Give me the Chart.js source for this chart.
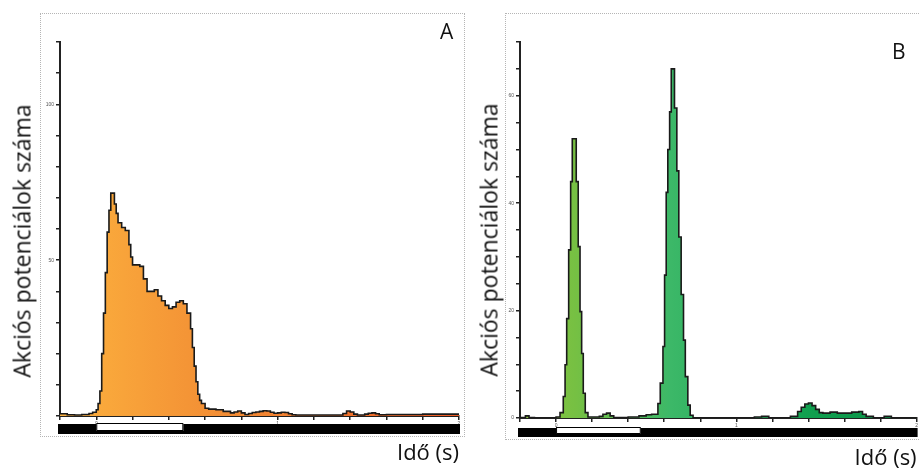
<!DOCTYPE html>
<html>
<head>
<meta charset="utf-8">
<script src="https://cdn.jsdelivr.net/npm/chart.js@4.4.1/dist/chart.umd.min.js"></script>
<style>
  body { margin: 0; background: #fff; }
  #page { position: relative; width: 919px; height: 470px; overflow: hidden; font-family: "Open Sans", sans-serif; color: #111; }
  .box { position: absolute; border: 1px dotted #b5b5b5; box-sizing: border-box; }
  canvas { position: absolute; top: 0; }
  .ytitle { position: absolute; white-space: nowrap; font-size: 23px; line-height: 1; transform: translate(-50%, -50%) rotate(-90deg); }
  .letter { position: absolute; font-size: 21px; line-height: 1; }
</style>
</head>
<body>
<div id="page">
  <div class="box" style="left:40px;top:13px;width:425px;height:424px"></div>
  <div class="box" style="left:505px;top:13px;width:430px;height:427px"></div>
  <canvas id="chartA" width="470" height="470" style="left:0"></canvas>
  <canvas id="chartB" width="449" height="470" style="left:470px"></canvas>
  <div class="ytitle" style="left:22px;top:241px">Akciós potenciálok száma</div>
  <div class="ytitle" style="left:489px;top:240px">Akciós potenciálok száma</div>
  <div class="letter" style="left:440px;top:21px">A</div>
  <div class="letter" style="left:892px;top:41px">B</div>
</div>
<script>
// bin start (s) and spike count per bin
const timesA = [-0.2, -0.16, -0.12, -0.08, -0.04, -0.02, 0.00, 0.01, 0.02, 0.03,
  0.04, 0.05, 0.06, 0.07, 0.08, 0.10, 0.11, 0.12, 0.14, 0.16,
  0.18, 0.19, 0.20, 0.22, 0.24, 0.26, 0.28, 0.30, 0.32, 0.34,
  0.36, 0.38, 0.40, 0.42, 0.44, 0.46, 0.48, 0.50, 0.52, 0.53,
  0.54, 0.55, 0.56, 0.57, 0.58, 0.60, 0.62, 0.66, 0.70, 0.74,
  0.76, 0.78, 0.80, 0.82, 0.84, 0.86, 0.88, 0.90, 0.92, 0.94,
  0.96, 0.98, 1.00, 1.02, 1.04, 1.06, 1.08, 1.10, 1.36, 1.38,
  1.40, 1.42, 1.44, 1.48, 1.50, 1.52, 1.54, 1.56, 1.60, 1.80,
  2.00];
const countsA = [0.7, 0.4, 0.3, 0.5, 0.8, 1.2, 2, 4, 8, 20,
  33, 46, 59, 66, 71.5, 68, 65, 62, 60.5, 59.5,
  55, 51, 48.5, 48.5, 48, 44, 40, 40, 40.5, 38.5,
  37, 35.5, 34.5, 35, 36.5, 37, 36, 33, 28, 22,
  16, 11, 7, 5, 4, 2.5, 2.2, 2, 1.5, 1.0,
  1.3, 1.6, 1.0, 0.5, 0.8, 1.1, 1.3, 1.5, 1.7, 1.6,
  1.2, 0.9, 1.0, 1.2, 1.1, 0.7, 0.4, 0.3, 0.8, 1.6,
  1.3, 0.6, 0.3, 0.6, 0.9, 1.0, 0.7, 0.4, 0.5, 0.6,
  0.6];

const timesB = [-0.2, -0.17, -0.15, -0.12, 0.00, 0.022, 0.040, 0.050, 0.059, 0.070,
  0.081, 0.090, 0.112, 0.123, 0.133, 0.142, 0.151, 0.162, 0.177, 0.24,
  0.26, 0.28, 0.30, 0.32, 0.40, 0.46, 0.50, 0.53, 0.565, 0.578,
  0.593, 0.602, 0.611, 0.620, 0.630, 0.639, 0.657, 0.670, 0.681, 0.694,
  0.707, 0.717, 0.731, 0.744, 0.76, 1.10, 1.14, 1.18, 1.30, 1.34,
  1.36, 1.38, 1.40, 1.42, 1.44, 1.46, 1.48, 1.52, 1.56, 1.60,
  1.64, 1.68, 1.70, 1.72, 1.76, 1.82, 1.86, 2.00];
const countsB = [0.1, 0.4, 0.1, 0, 0.2, 1, 4, 9.9, 18.5, 31.3,
  44, 52, 44, 31.9, 19.8, 12, 4.6, 1, 0.2, 0.3,
  0.7, 0.9, 0.4, 0.1, 0.2, 0.4, 0.6, 0.7, 2.7, 6.5,
  13.3, 26.6, 42, 50, 57, 65, 57.7, 46, 33.7, 23,
  14.5, 7.7, 2.4, 0.5, 0.05, 0.2, 0.3, 0.05, 0.3, 1.2,
  2.0, 2.6, 2.8, 2.3, 1.6, 1.0, 0.9, 1.1, 0.9, 0.9,
  1.1, 1.2, 0.7, 0.3, 0.05, 0.3, 0.05, 0.05];

// stimulus window (s), drawn as the white box on the black bar
const stimA = [0, 0.48];
const stimB = [0, 0.47];

const xTickLabels = [0, 1, 2];
const yTickLabelsA = [50, 100];
const yTickLabelsB = [0, 20, 40, 60];

function fillGradient(chart, stops) {
  const area = chart.chartArea;
  if (!area) return 'transparent';
  const g = chart.ctx.createLinearGradient(area.left, 0, area.right, 0);
  stops.forEach(s => g.addColorStop(s[0], s[1]));
  return g;
}

const stimBar = {
  id: 'stimBar',
  afterDraw(chart, args, opts) {
    const { ctx, chartArea, scales } = chart;
    const top = chartArea.bottom + opts.offset;
    ctx.save();
    ctx.fillStyle = '#000';
    ctx.fillRect(chartArea.left - 2, top + 1, chartArea.right - chartArea.left + 3, opts.height);
    const x0 = scales.x.getPixelForValue(opts.window[0]);
    const x1 = scales.x.getPixelForValue(opts.window[1]);
    ctx.fillStyle = '#fff';
    ctx.strokeStyle = '#000';
    ctx.lineWidth = 1;
    ctx.fillRect(x0, top, x1 - x0, opts.height - 2);
    ctx.strokeRect(x0 + 0.5, top + 0.5, x1 - x0 - 1, opts.height - 3);
    ctx.restore();
  }
};

function makeChart(id, times, counts, cfg) {
  const points = times.map((t, i) => ({ x: t, y: counts[i] }));
  const axisGrid = { drawOnChartArea: false, tickLength: 4, color: '#222', lineWidth: 1.5 };
  const axisBorder = { color: '#222', width: 2 };
  return new Chart(document.getElementById(id), {
    type: 'line',
    data: {
      datasets: [{
        data: points,
        // each count holds from its bin start until the next point
        stepped: 'before',
        fill: 'origin',
        borderColor: '#1a1a1a',
        borderWidth: 1.6,
        pointRadius: 0,
        backgroundColor: ctx => fillGradient(ctx.chart, cfg.stops)
      }]
    },
    plugins: [stimBar],
    options: {
      responsive: false,
      animation: false,
      layout: { padding: { left: 0, top: 42, right: cfg.padRight, bottom: 0 } },
      plugins: {
        legend: { display: false },
        tooltip: { enabled: false },
        stimBar: { offset: cfg.barOffset, height: cfg.barHeight, window: cfg.stim }
      },
      scales: {
        x: {
          type: 'linear',
          min: -0.2,
          max: 2,
          ticks: {
            stepSize: 0.2,
            autoSkip: false,
            maxRotation: 0,
            padding: 1,
            font: { size: 5 },
            color: '#555',
            callback: v => xTickLabels.some(l => Math.abs(l - v) < 1e-6) ? String(Math.round(v)) : ''
          },
          grid: axisGrid,
          border: axisBorder,
          title: {
            display: true,
            text: 'Idő (s)',
            align: 'end',
            color: '#111',
            font: { family: 'Open Sans', size: 22, lineHeight: 1 },
            padding: { top: 0, bottom: cfg.titlePad }
          },
          afterFit: s => { s.height = cfg.xAxisHeight; }
        },
        y: {
          min: 0,
          max: cfg.yMax,
          ticks: {
            stepSize: cfg.yStep,
            padding: 2,
            font: { size: 5 },
            color: '#555',
            callback: v => cfg.yLabels.includes(v) ? String(v) : ''
          },
          grid: axisGrid,
          border: axisBorder,
          afterFit: s => { s.width = cfg.yAxisWidth; }
        }
      }
    }
  });
}

makeChart('chartA', timesA, countsA, {
  yMax: 120, yStep: 10, yLabels: yTickLabelsA,
  yAxisWidth: 60, xAxisHeight: 54, padRight: 11, titlePad: 5,
  barOffset: 7, barHeight: 10, stim: stimA,
  stops: [[0, '#FBB040'], [0.12, '#F9A73B'], [0.36, '#F39135'], [1, '#EF5A24']]
});

makeChart('chartB', timesB, countsB, {
  yMax: 70, yStep: 5, yLabels: yTickLabelsB,
  yAxisWidth: 50, xAxisHeight: 52, padRight: 2, titlePad: 0,
  barOffset: 9, barHeight: 9, stim: stimB,
  stops: [[0, '#8DC63F'], [0.14, '#76C043'], [0.38, '#3CB868'], [0.73, '#10A04F'], [1, '#0B8F47']]
});
</script>
</body>
</html>
